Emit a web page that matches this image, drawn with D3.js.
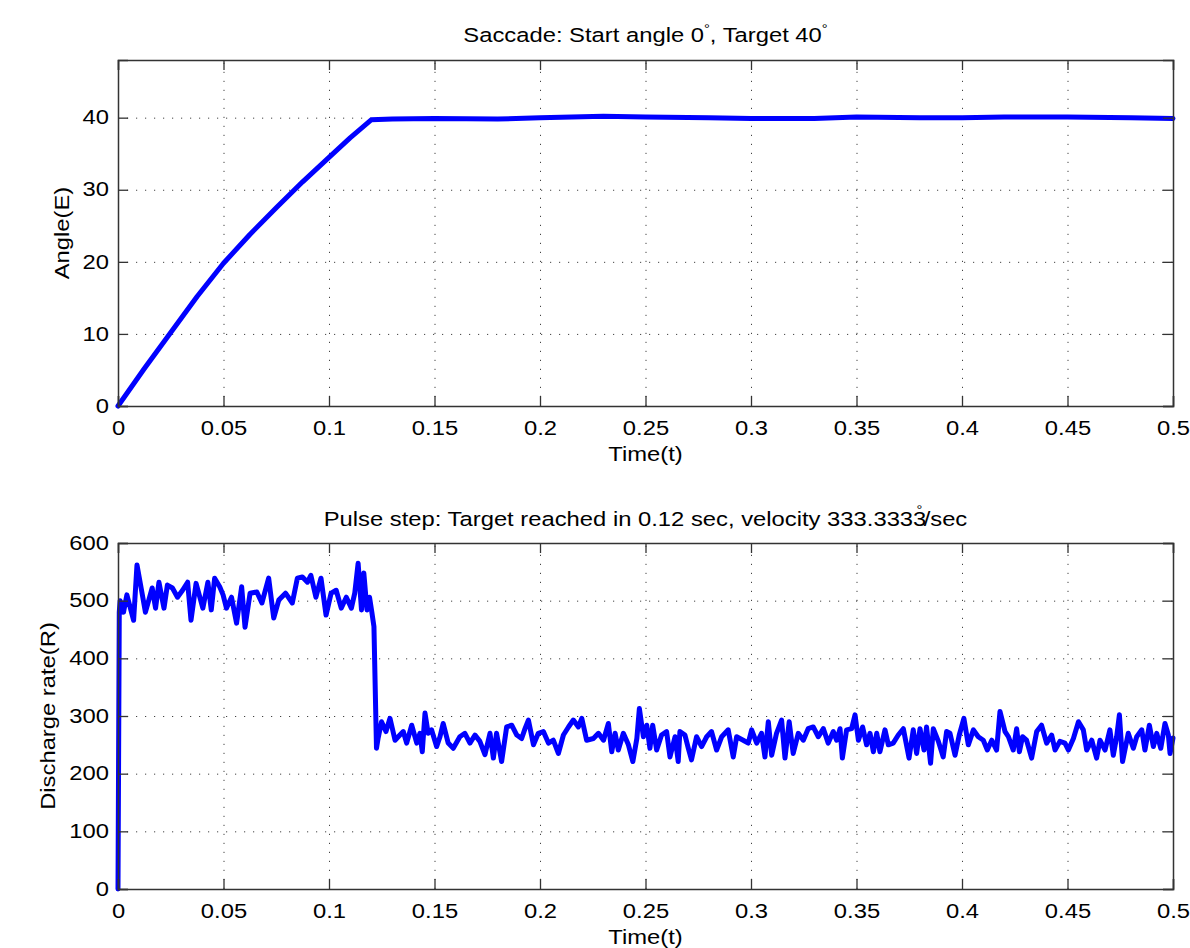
<!DOCTYPE html>
<html>
<head>
<meta charset="utf-8">
<script src="https://cdn.jsdelivr.net/npm/d3@7"></script>
<style>
  body { margin: 0; background: #fff; }
  svg { font-family: "Liberation Sans", Arial, sans-serif; }
  .grid line { stroke: #444; stroke-width: 1; stroke-dasharray: 1.2 7.8; }
  .grid .domain { display: none; }
  .frame .domain { stroke: #333; stroke-width: 1.5; }
  .frame line { stroke: #333; stroke-width: 1.3; }
  .frame text { font-size: 19.5px; fill: #000; }
</style>
</head>
<body>
<div id="viz"></div>
<script>
const width = 1190;
const height = 948;
const stretch = 1.22; // the source font is drawn wider than Liberation Sans

// x ticks shared by both panels
const xTicks = [0, 0.05, 0.1, 0.15, 0.2, 0.25, 0.3, 0.35, 0.4, 0.45, 0.5];

// Panel 1: eye angle
const angleTicks = [0, 10, 20, 30, 40];
const angleTime = [0, 0.0125, 0.025, 0.0375, 0.05, 0.0625, 0.075, 0.0875, 0.1, 0.11, 0.12,
  0.13, 0.15, 0.18, 0.2, 0.23, 0.25, 0.28, 0.3, 0.33, 0.35, 0.38, 0.4, 0.42, 0.45, 0.48, 0.5];
const angleValue = [0, 5.2, 10.2, 15.2, 19.8, 23.8, 27.5, 31.1, 34.5, 37.2, 39.7,
  39.8, 39.9, 39.8, 40.0, 40.2, 40.1, 40.0, 39.9, 39.9, 40.1, 40.0, 40.0, 40.1, 40.1, 40.0, 39.9];

// Panel 2: discharge rate
const rateTicks = [0, 100, 200, 300, 400, 500, 600];
const rateTime = [0, 0.0006, 0.001, 0.0026, 0.0042, 0.0074, 0.009, 0.0114, 0.013, 0.0162, 0.0178,
  0.0194, 0.0218, 0.0234, 0.0258, 0.0282, 0.0306, 0.033, 0.0346, 0.037, 0.0402,
  0.0426, 0.0442, 0.0458, 0.0482, 0.0498, 0.0514, 0.0538, 0.0562, 0.0586, 0.0602,
  0.0626, 0.0658, 0.0682, 0.0714, 0.0738, 0.0762, 0.0794, 0.0826, 0.085, 0.0874,
  0.0898, 0.0914, 0.0938, 0.0962, 0.0986, 0.101, 0.1034, 0.1058, 0.1082, 0.1106,
  0.1122, 0.1138, 0.1154, 0.1165, 0.1180, 0.1192, 0.1203, 0.1213,
  0.1225, 0.1233, 0.1249, 0.127, 0.1289, 0.1313, 0.1336, 0.1352, 0.1368, 0.1392,
  0.1416, 0.1431, 0.1442, 0.1455, 0.147, 0.1486, 0.151, 0.1526, 0.1541, 0.1565,
  0.1589, 0.162, 0.1644, 0.1668, 0.1692, 0.1715, 0.1739, 0.1763, 0.1779, 0.1794,
  0.1818, 0.1842, 0.1866, 0.189, 0.1913, 0.1929, 0.1945, 0.1969, 0.1992, 0.2016,
  0.204, 0.2063, 0.2087, 0.2111, 0.2135, 0.2158, 0.2182, 0.2198, 0.2221, 0.2253,
  0.2277, 0.2301, 0.2324, 0.234, 0.2356, 0.2371, 0.2395, 0.2419, 0.244, 0.2459,
  0.2471, 0.249, 0.2506, 0.2521, 0.2534, 0.2553, 0.2576, 0.26, 0.2616, 0.264,
  0.2655, 0.2663, 0.2687, 0.2703, 0.2718, 0.2742, 0.2766, 0.279, 0.2813, 0.2837,
  0.2861, 0.2892, 0.2916, 0.2932, 0.2963, 0.2987, 0.3003, 0.3027, 0.305, 0.3066,
  0.3082, 0.3098, 0.3121, 0.3145, 0.3161, 0.3181, 0.32, 0.3224, 0.3248, 0.3271,
  0.3295, 0.3319, 0.3343, 0.3366, 0.339, 0.3406, 0.3422, 0.3433, 0.3453, 0.3477,
  0.3493, 0.3509, 0.3529, 0.3548, 0.3564, 0.358, 0.3596, 0.3611, 0.3635, 0.3651,
  0.3674, 0.3698, 0.3722, 0.3749, 0.3769, 0.3785, 0.3801, 0.382, 0.3832, 0.3851,
  0.3864, 0.3888, 0.3911, 0.3927, 0.3943, 0.3967, 0.3987, 0.4009, 0.403, 0.4054,
  0.4077, 0.4101, 0.412, 0.4141, 0.4164, 0.418, 0.4204, 0.422, 0.4243, 0.4259,
  0.4272, 0.4287, 0.4306, 0.433, 0.4354, 0.4377, 0.4401, 0.4425, 0.4441, 0.4464,
  0.4488, 0.4504, 0.4528, 0.4552, 0.4575, 0.4591, 0.4615, 0.4638, 0.4654, 0.4678,
  0.4701, 0.4717, 0.4733, 0.4746, 0.4761, 0.4788, 0.4812, 0.4828, 0.4852, 0.4867,
  0.4888, 0.4907, 0.4923, 0.4942, 0.4962, 0.4978, 0.4986, 0.5];
const rateValue = [0, 480, 500, 480, 510, 466, 562, 513, 480, 522, 487,
  532, 487, 527, 522, 506, 518, 532, 466, 530, 487,
  532, 484, 539, 524, 510, 487, 506, 461, 524, 454,
  513, 515, 496, 539, 470, 501, 513, 496, 539, 541,
  532, 544, 506, 539, 475, 513, 518, 487, 506, 487,
  513, 565, 484, 548, 484, 506, 480, 455,
  244, 262, 290, 273, 296, 258, 267, 273, 253, 284,
  253, 270, 238, 305, 270, 276, 247, 264, 287, 253,
  244, 264, 270, 253, 267, 256, 233, 270, 227, 270,
  221, 281, 284, 267, 261, 278, 293, 250, 270, 273,
  253, 258, 235, 267, 281, 293, 281, 296, 258, 261,
  270, 258, 287, 238, 270, 241, 270, 250, 221, 261,
  313, 264, 284, 244, 284, 241, 267, 273, 229, 264,
  221, 273, 267, 244, 224, 264, 247, 264, 273, 241,
  264, 276, 229, 264, 258, 253, 276, 253, 270, 229,
  290, 232, 270, 293, 227, 290, 235, 270, 258, 278,
  281, 264, 278, 253, 273, 258, 278, 227, 276, 278,
  302, 258, 281, 250, 270, 238, 270, 238, 276, 250,
  253, 267, 278, 227, 276, 235, 278, 241, 281, 218,
  278, 256, 229, 273, 270, 232, 267, 296, 250, 276,
  264, 258, 241, 258, 241, 308, 273, 264, 241, 278,
  238, 264, 258, 227, 273, 284, 253, 267, 241, 256,
  253, 241, 261, 290, 276, 241, 258, 227, 258, 241,
  276, 232, 264, 302, 221, 270, 244, 264, 276, 241,
  284, 247, 270, 244, 287, 267, 235, 262];

const fmtTick = d => String(+d.toFixed(2));

const svg = d3.select('#viz')
  .append('svg')
    .attr('width', width)
    .attr('height', height);

const scaleX = d3.scaleLinear().domain([0, 0.5]).range([118, 1173]);

const drawPanel = (opts) => {
  const { top, bottom, yDomain, yTicks, times, values, yLabel, yLabelX } = opts;
  const scaleY = d3.scaleLinear().domain(yDomain).range([bottom, top]);
  const innerH = bottom - top;
  const innerW = scaleX.range()[1] - scaleX.range()[0];
  const g = svg.append('g');

  // dotted grid
  g.append('g')
      .attr('class', 'grid')
      .attr('transform', `translate(0,${bottom})`)
    .call(d3.axisBottom(scaleX).tickValues(xTicks.slice(1, -1)).tickSize(-innerH).tickFormat(''));
  g.append('g')
      .attr('class', 'grid')
      .attr('transform', `translate(${scaleX.range()[0]},0)`)
    .call(d3.axisLeft(scaleY).tickValues(yTicks.filter(v => v > yDomain[0] && v < yDomain[1])).tickSize(-innerW).tickFormat(''));

  // data line
  const line = d3.line()
    .x((d, i) => scaleX(times[i]))
    .y(d => scaleY(d));
  g.append('path')
      .datum(values)
      .attr('d', line)
      .attr('fill', 'none')
      .attr('stroke', '#0000ff')
      .attr('stroke-width', 5)
      .attr('stroke-linejoin', 'round')
      .attr('stroke-linecap', 'round');

  // frame with inward ticks
  const xAxis = g.append('g')
      .attr('class', 'frame')
      .attr('transform', `translate(0,${bottom})`)
    .call(d3.axisBottom(scaleX).tickValues(xTicks).tickSize(-10).tickPadding(15).tickFormat(fmtTick));
  xAxis.selectAll('text').attr('transform', `scale(${stretch},1)`);
  g.append('g')
      .attr('class', 'frame')
      .attr('transform', `translate(0,${top})`)
    .call(d3.axisTop(scaleX).tickValues(xTicks).tickSize(-10).tickFormat(''));
  const yAxis = g.append('g')
      .attr('class', 'frame')
      .attr('transform', `translate(${scaleX.range()[0]},0)`)
    .call(d3.axisLeft(scaleY).tickValues(yTicks).tickSize(-10).tickPadding(9));
  yAxis.selectAll('text')
      .attr('x', -9 / stretch)
      .attr('transform', `scale(${stretch},1)`);
  g.append('g')
      .attr('class', 'frame')
      .attr('transform', `translate(${scaleX.range()[1]},0)`)
    .call(d3.axisRight(scaleY).tickValues(yTicks).tickSize(-10).tickFormat(''));

  // axis labels
  g.append('text')
      .attr('transform', `translate(${(scaleX.range()[0] + scaleX.range()[1]) / 2},${bottom + 55}) scale(${stretch},1)`)
      .attr('text-anchor', 'middle')
      .style('font-size', '19.5px')
      .text('Time(t)');
  g.append('text')
      .attr('transform', `translate(${yLabelX},${(top + bottom) / 2}) rotate(-90) scale(${stretch},1)`)
      .attr('text-anchor', 'middle')
      .style('font-size', '19.5px')
      .text(yLabel);

  return g;
};

drawPanel({
  top: 60, bottom: 406, yDomain: [0, 48], yTicks: angleTicks,
  times: angleTime, values: angleValue, yLabel: 'Angle(E)', yLabelX: 69
});
drawPanel({
  top: 543, bottom: 889, yDomain: [0, 600], yTicks: rateTicks,
  times: rateTime, values: rateValue, yLabel: 'Discharge rate(R)', yLabelX: 55
});

// titles
const cx = (scaleX.range()[0] + scaleX.range()[1]) / 2;
const t1 = svg.append('text')
    .attr('transform', `translate(${cx},42) scale(${stretch},1)`)
    .attr('text-anchor', 'middle')
    .style('font-size', '19.5px');
t1.append('tspan').text('Saccade: Start angle 0');
t1.append('tspan').attr('dy', -9).style('font-size', '12px').text('°');
t1.append('tspan').attr('dy', 9).text(', Target 40');
t1.append('tspan').attr('dy', -9).style('font-size', '12px').text('°');

const t2 = svg.append('text')
    .attr('transform', `translate(${cx},526) scale(${stretch},1)`)
    .attr('text-anchor', 'middle')
    .style('font-size', '19.5px');
t2.append('tspan').text('Pulse step: Target reached in 0.12 sec, velocity 333.3333');
t2.append('tspan').attr('dx', -8).attr('dy', -12).style('font-size', '12px').text('°');
t2.append('tspan').attr('dx', 1).attr('dy', 12).text('/sec');
</script>
</body>
</html>
